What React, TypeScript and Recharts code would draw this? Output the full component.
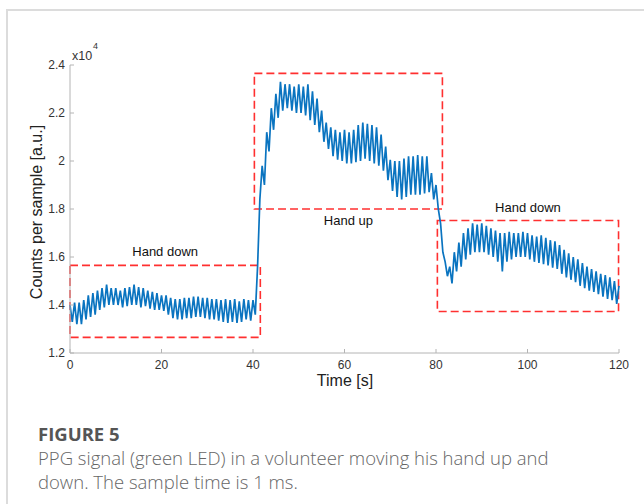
import React from "react";
import { LineChart, Line, XAxis, YAxis, ReferenceArea, Label } from "recharts";

// one point every half second: heartbeat peak, then trough (counts in units of 10^4)
const SAMPLE_STEP = 0.5;

const handDown1Start = 0;
const handDown1Values = [
  1.4, 1.33, 1.41, 1.32, 1.41, 1.32, 1.42, 1.34, 1.44, 1.35, 1.45, 1.36, 1.46, 1.38, 1.47, 1.39,
  1.485, 1.4, 1.47, 1.4, 1.47, 1.4, 1.46, 1.39, 1.47, 1.395, 1.475, 1.4, 1.485, 1.4, 1.475, 1.39,
  1.47, 1.395, 1.46, 1.385, 1.455, 1.38, 1.45, 1.38, 1.44, 1.375, 1.44, 1.36, 1.43, 1.345, 1.425, 1.34,
  1.425, 1.34, 1.43, 1.345, 1.43, 1.345, 1.435, 1.35, 1.435, 1.35, 1.43, 1.345, 1.43, 1.34, 1.425, 1.34,
  1.425, 1.335, 1.42, 1.33, 1.425, 1.325, 1.42, 1.33, 1.425, 1.325, 1.415, 1.33, 1.425, 1.34, 1.42, 1.335,
  1.42, 1.36,
];

const handUpStart = 41;
const handUpValues = [
  1.56, 1.84, 1.98, 1.9, 2.12, 2.04, 2.22, 2.13, 2.28, 2.18, 2.33, 2.21, 2.32, 2.22, 2.32, 2.21,
  2.31, 2.2, 2.32, 2.2, 2.31, 2.19, 2.32, 2.17, 2.29, 2.15, 2.26, 2.12, 2.21, 2.08, 2.16, 2.05,
  2.14, 2.02, 2.13, 2.005, 2.12, 2.0, 2.13, 1.99, 2.12, 1.99, 2.13, 1.995, 2.15, 2.0, 2.16, 2.01,
  2.155, 2.0, 2.15, 1.99, 2.14, 1.98, 2.11, 1.96, 2.06, 1.92, 2.005, 1.875, 2.0, 1.85, 2.0, 1.84,
  2.01, 1.85, 2.02, 1.86, 2.02, 1.86, 2.025, 1.86, 2.02, 1.865, 2.02, 1.87, 1.95, 1.84, 1.9, 1.8,
];

const handDown2Start = 81;
const handDown2Values = [
  1.74, 1.62, 1.58, 1.52, 1.56, 1.49, 1.62, 1.54, 1.66, 1.56, 1.7, 1.59, 1.72, 1.61, 1.74, 1.62,
  1.735, 1.62, 1.74, 1.62, 1.73, 1.61, 1.72, 1.6, 1.71, 1.58, 1.7, 1.54, 1.7, 1.58, 1.705, 1.59,
  1.7, 1.6, 1.7, 1.6, 1.705, 1.6, 1.7, 1.59, 1.69, 1.58, 1.685, 1.575, 1.69, 1.57, 1.68, 1.565,
  1.67, 1.555, 1.665, 1.55, 1.65, 1.53, 1.63, 1.515, 1.615, 1.505, 1.6, 1.495, 1.59, 1.48, 1.575, 1.47,
  1.56, 1.46, 1.55, 1.455, 1.54, 1.445, 1.53, 1.435, 1.525, 1.425, 1.515, 1.42, 1.5, 1.405, 1.48,
];

const xTicks = [0, 20, 40, 60, 80, 100, 120];
const yTicks = [1.2, 1.4, 1.6, 1.8, 2, 2.2, 2.4];

const segments = [
  { label: "Hand down", t1: 0, t2: 41.6, low: 1.265, high: 1.565, side: "top" },
  { label: "Hand up", t1: 40.3, t2: 81.4, low: 1.8, high: 2.365, side: "bottom" },
  { label: "Hand down", t1: 80.3, t2: 119.9, low: 1.373, high: 1.752, side: "top" },
];

const toPoints = (start: number, values: number[]) =>
  values.map((v, i) => ({ t: start + i * SAMPLE_STEP, v }));

const data = [
  ...toPoints(handDown1Start, handDown1Values),
  ...toPoints(handUpStart, handUpValues),
  ...toPoints(handDown2Start, handDown2Values),
];

const AXIS = "#b4b4b4";
const TEXT = "#333";
const FONT = "'Liberation Sans', Arial, sans-serif";

const XTick = ({ x, y, payload }: any) => (
  <g>
    <line x1={x} x2={x} y1={y} y2={y - 4} stroke={AXIS} />
    <text x={x} y={y + 16} textAnchor="middle" fill={TEXT} fontSize={12} fontFamily={FONT}>
      {payload.value}
    </text>
  </g>
);

const YTick = ({ x, y, payload }: any) => (
  <g>
    <line x1={x} x2={x + 4} y1={y} y2={y} stroke={AXIS} />
    <text x={x - 5} y={y + 4} textAnchor="end" fill={TEXT} fontSize={12} fontFamily={FONT}>
      {payload.value}
    </text>
  </g>
);

export default function App() {
  return (
    <div style={{ position: "absolute", left: 0, top: 0, width: 644, height: 504, background: "#fff" }}>
      <div
        style={{
          position: "absolute",
          left: 6,
          top: 9,
          width: 638,
          height: 495,
          borderTop: "2px solid #dcdcdc",
          borderLeft: "2px solid #dcdcdc",
        }}
      />
      <div style={{ position: "absolute", left: 0, top: 0 }}>
        <LineChart width={644} height={400} data={data} margin={{ top: 65, right: 25, left: 0, bottom: 0 }}>
          <XAxis
            dataKey="t"
            type="number"
            domain={[0, 120]}
            ticks={xTicks}
            stroke={AXIS}
            tickSize={0}
            tickMargin={0}
            tickLine={false}
            tick={<XTick />}
            height={47}
          />
          <YAxis
            type="number"
            domain={[1.2, 2.4]}
            ticks={yTicks}
            stroke={AXIS}
            tickSize={0}
            tickMargin={0}
            tickLine={false}
            tick={<YTick />}
            width={70}
          />
          <Line
            dataKey="v"
            type="linear"
            stroke="#0a74c0"
            strokeWidth={1.7}
            dot={false}
            isAnimationActive={false}
          />
          {segments.map((s, i) => (
            <ReferenceArea
              key={i}
              x1={s.t1}
              x2={s.t2}
              y1={s.low}
              y2={s.high}
              fill="none"
              stroke="#ff3030"
              strokeWidth={1.6}
              strokeDasharray="8 4"
              ifOverflow="visible"
            >
              <Label
                value={s.label}
                position={s.side as any}
                offset={s.side === "top" ? 9 : 7}
                fill="#111"
                fontSize={13}
                fontFamily={FONT}
              />
            </ReferenceArea>
          ))}
        </LineChart>
      </div>
      <svg width={644} height={400} style={{ position: "absolute", left: 0, top: 0, pointerEvents: "none" }}>
        <text x={72} y={60} fontSize={12.5} fill={TEXT} fontFamily={FONT}>x10</text>
        <text x={93} y={49} fontSize={9} fill={TEXT} fontFamily={FONT}>4</text>
        <text
          x={36}
          y={212}
          transform="rotate(-90 36 212)"
          textAnchor="middle"
          dominantBaseline="central"
          fontSize={16}
          fill="#222"
          fontFamily={FONT}
        >
          Counts per sample [a.u.]
        </text>
        <text x={345} y={386} textAnchor="middle" fontSize={16} fill="#222" fontFamily={FONT}>
          Time [s]
        </text>
      </svg>
      <div
        style={{
          position: "absolute",
          left: 38,
          top: 421,
          fontFamily: "'Open Sans', 'Noto Sans', sans-serif",
          color: "#666",
        }}
      >
        <div style={{ fontWeight: 700, fontSize: 18.5, lineHeight: "25px", color: "#555" }}>FIGURE 5</div>
        <div style={{ fontSize: 18.5, lineHeight: "24px", fontWeight: 300 }}>
          PPG signal (green LED) in a volunteer moving his hand up and
          <br />
          down. The sample time is 1 ms.
        </div>
      </div>
    </div>
  );
}
